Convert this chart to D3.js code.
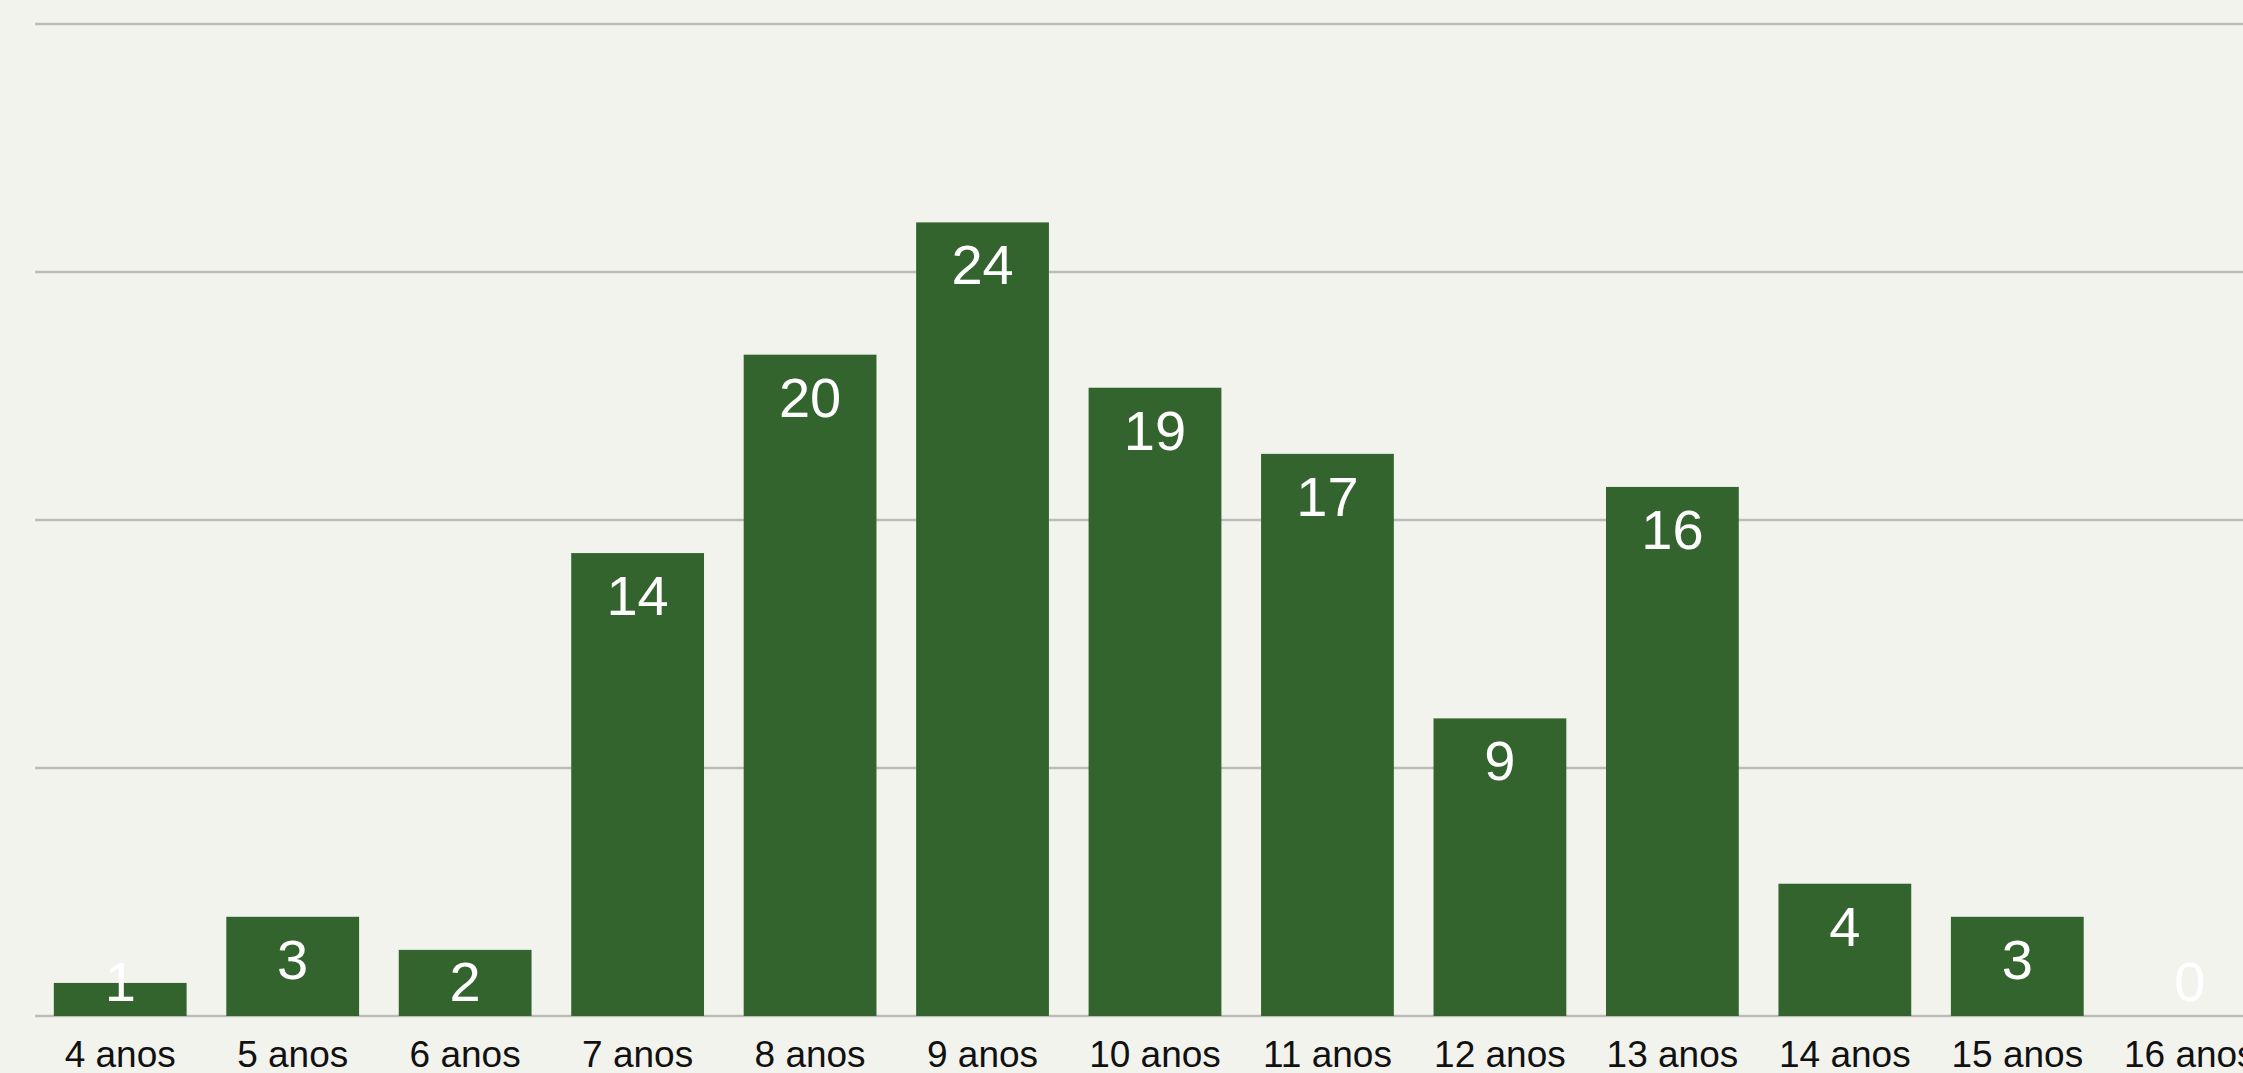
<!DOCTYPE html>
<html>
<head>
<meta charset="utf-8">
<script src="https://cdn.jsdelivr.net/npm/d3@7"></script>
<style>
  html, body { margin: 0; padding: 0; background: #f3f3ee; overflow: hidden; }
  svg { display: block; }
  text { font-family: "Liberation Sans", Arial, Helvetica, sans-serif; }
</style>
</head>
<body>
<div id="chart"></div>
<script>

    const categories = ["4 anos", "5 anos", "6 anos", "7 anos", "8 anos", "9 anos", "10 anos",
        "11 anos", "12 anos", "13 anos", "14 anos", "15 anos", "16 anos"];
    const values = [1, 3, 2, 14, 20, 24, 19, 17, 9, 16, 4, 3, 0];
    const gridTicks = [0, 7.5, 15, 22.5, 30];

    const width = 2243, height = 1073;

    const svg = d3.select("#chart").append("svg")
        .attr("width", width).attr("height", height);

    // band range runs past the right edge, the last label gets cut like in the original
    const x = d3.scaleBand().domain(categories)
        .range([34, 2276]).paddingInner(0.23).paddingOuter(0.115);

    const y = d3.scaleLinear().domain([0, 30]).range([1016, 24]);

    // horizontal grid lines
    svg.append("g").attr("class", "grid")
        .selectAll("line").data(gridTicks).enter().append("line")
        .attr("x1", 35).attr("x2", width)
        .attr("y1", d => y(d)).attr("y2", d => y(d))
        .attr("stroke", "#bcbcb8").attr("stroke-width", 2.4);

    // bars
    svg.append("g").selectAll("rect").data(values).enter().append("rect")
        .attr("x", (d, i) => x(categories[i]))
        .attr("y", d => y(d))
        .attr("width", x.bandwidth())
        .attr("height", d => y(0) - y(d))
        .attr("fill", "#34642e");

    // value labels, pushed up when the bar is too short
    svg.append("g").selectAll("text").data(values).enter().append("text")
        .attr("x", (d, i) => x(categories[i]) + x.bandwidth() / 2)
        .attr("y", d => Math.min(y(d) + 62, 1001))
        .attr("text-anchor", "middle")
        .attr("font-size", 56)
        .attr("fill", "#ffffff")
        .text(d => d);

    // category labels
    const xAxis = d3.axisBottom(x).tickSize(0).tickPadding(0);
    const axisG = svg.append("g").attr("transform", "translate(0,1016)").call(xAxis);
    axisG.select(".domain").remove();
    axisG.selectAll("text")
        .attr("dy", null)
        .attr("y", 51)
        .attr("font-size", 37)
        .attr("font-family", "'Liberation Sans', Arial, Helvetica, sans-serif")
        .attr("fill", "#111");

</script>
</body>
</html>
